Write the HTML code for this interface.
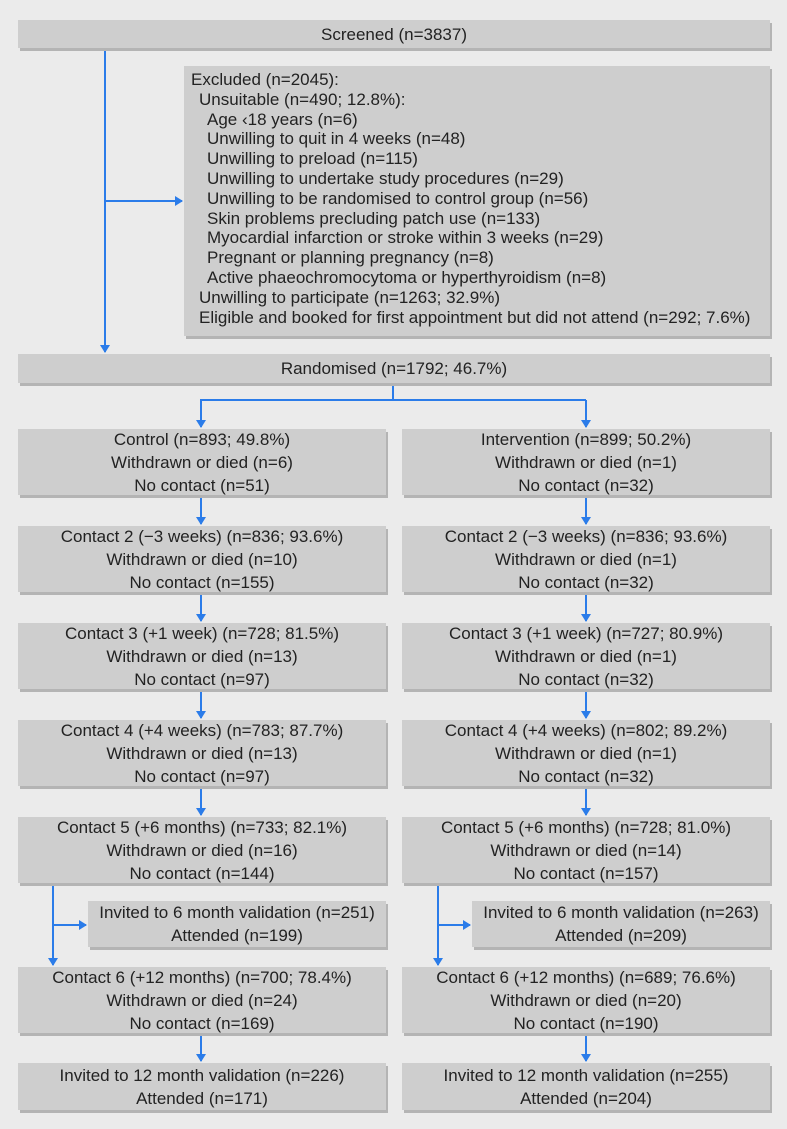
<!DOCTYPE html>
<html><head><meta charset="utf-8"><style>
body{margin:0;background:#ebebeb;}
#c{position:relative;width:787px;height:1129px;background:#ebebeb;font-family:"Liberation Sans",sans-serif;color:#222;font-size:17px;}
.b{position:absolute;background:#cecece;box-shadow:2px 3px 0 #b4b4b4;text-align:center;line-height:23px;box-sizing:border-box;white-space:nowrap;}
.b.c{display:flex;flex-direction:column;justify-content:center;}
.ex{text-align:left;padding:4px 0 0 7px;}
.ex div{height:19.8px;line-height:19.8px;overflow:visible;}
.i1{padding-left:8px}.i2{padding-left:16px}
svg{position:absolute;left:0;top:0;}
</style></head><body><div id="c">
<div class="b c" style="left:18px;top:20px;width:752px;height:28px">Screened (n=3837)</div>
<div class="b ex" style="left:184px;top:66px;width:586px;height:270px">
<div>Excluded (n=2045):</div>
<div class="i1">Unsuitable (n=490; 12.8%):</div>
<div class="i2">Age ‹18 years (n=6)</div>
<div class="i2">Unwilling to quit in 4 weeks (n=48)</div>
<div class="i2">Unwilling to preload (n=115)</div>
<div class="i2">Unwilling to undertake study procedures (n=29)</div>
<div class="i2">Unwilling to be randomised to control group (n=56)</div>
<div class="i2">Skin problems precluding patch use (n=133)</div>
<div class="i2">Myocardial infarction or stroke within 3 weeks (n=29)</div>
<div class="i2">Pregnant or planning pregnancy (n=8)</div>
<div class="i2">Active phaeochromocytoma or hyperthyroidism (n=8)</div>
<div class="i1">Unwilling to participate (n=1263; 32.9%)</div>
<div class="i1">Eligible and booked for first appointment but did not attend (n=292; 7.6%)</div>
</div>
<div class="b c" style="left:18px;top:354px;width:752px;height:29px">Randomised (n=1792; 46.7%)</div>

<div class="b c" style="left:18px;top:429px;width:368px;height:66px">Control (n=893; 49.8%)<br>Withdrawn or died (n=6)<br>No contact (n=51)</div>
<div class="b c" style="left:402px;top:429px;width:368px;height:66px">Intervention (n=899; 50.2%)<br>Withdrawn or died (n=1)<br>No contact (n=32)</div>
<div class="b c" style="left:18px;top:526px;width:368px;height:66px">Contact 2 (−3 weeks) (n=836; 93.6%)<br>Withdrawn or died (n=10)<br>No contact (n=155)</div>
<div class="b c" style="left:402px;top:526px;width:368px;height:66px">Contact 2 (−3 weeks) (n=836; 93.6%)<br>Withdrawn or died (n=1)<br>No contact (n=32)</div>
<div class="b c" style="left:18px;top:623px;width:368px;height:66px">Contact 3 (+1 week) (n=728; 81.5%)<br>Withdrawn or died (n=13)<br>No contact (n=97)</div>
<div class="b c" style="left:402px;top:623px;width:368px;height:66px">Contact 3 (+1 week) (n=727; 80.9%)<br>Withdrawn or died (n=1)<br>No contact (n=32)</div>
<div class="b c" style="left:18px;top:720px;width:368px;height:66px">Contact 4 (+4 weeks) (n=783; 87.7%)<br>Withdrawn or died (n=13)<br>No contact (n=97)</div>
<div class="b c" style="left:402px;top:720px;width:368px;height:66px">Contact 4 (+4 weeks) (n=802; 89.2%)<br>Withdrawn or died (n=1)<br>No contact (n=32)</div>
<div class="b c" style="left:18px;top:817px;width:368px;height:66px">Contact 5 (+6 months) (n=733; 82.1%)<br>Withdrawn or died (n=16)<br>No contact (n=144)</div>
<div class="b c" style="left:402px;top:817px;width:368px;height:66px">Contact 5 (+6 months) (n=728; 81.0%)<br>Withdrawn or died (n=14)<br>No contact (n=157)</div>
<div class="b c" style="left:88px;top:901px;width:298px;height:46px">Invited to 6 month validation (n=251)<br>Attended (n=199)</div>
<div class="b c" style="left:472px;top:901px;width:298px;height:46px">Invited to 6 month validation (n=263)<br>Attended (n=209)</div>
<div class="b c" style="left:18px;top:967px;width:368px;height:66px">Contact 6 (+12 months) (n=700; 78.4%)<br>Withdrawn or died (n=24)<br>No contact (n=169)</div>
<div class="b c" style="left:402px;top:967px;width:368px;height:66px">Contact 6 (+12 months) (n=689; 76.6%)<br>Withdrawn or died (n=20)<br>No contact (n=190)</div>
<div class="b c" style="left:18px;top:1063px;width:368px;height:47px">Invited to 12 month validation (n=226)<br>Attended (n=171)</div>
<div class="b c" style="left:402px;top:1063px;width:368px;height:47px">Invited to 12 month validation (n=255)<br>Attended (n=204)</div>

<svg width="787" height="1129" viewBox="0 0 787 1129">
<defs><marker id="a" markerWidth="8" markerHeight="10" refX="7" refY="5" orient="auto" markerUnits="userSpaceOnUse"><path d="M0,0 L8,5 L0,10 z" fill="#2b7ce9"/></marker></defs>
<g stroke="#2b7ce9" stroke-width="2" fill="none">
<line x1="105" y1="51" x2="105" y2="352" marker-end="url(#a)"/>
<line x1="105" y1="201" x2="182" y2="201" marker-end="url(#a)"/>
<line x1="393" y1="386" x2="393" y2="400"/>
<line x1="200" y1="400" x2="586" y2="400"/>
<line x1="201" y1="400" x2="201" y2="427" marker-end="url(#a)"/>
<line x1="586" y1="400" x2="586" y2="427" marker-end="url(#a)"/>
<line x1="201" y1="498" x2="201" y2="524" marker-end="url(#a)"/>
<line x1="586" y1="498" x2="586" y2="524" marker-end="url(#a)"/>
<line x1="201" y1="595" x2="201" y2="621" marker-end="url(#a)"/>
<line x1="586" y1="595" x2="586" y2="621" marker-end="url(#a)"/>
<line x1="201" y1="692" x2="201" y2="718" marker-end="url(#a)"/>
<line x1="586" y1="692" x2="586" y2="718" marker-end="url(#a)"/>
<line x1="201" y1="789" x2="201" y2="815" marker-end="url(#a)"/>
<line x1="586" y1="789" x2="586" y2="815" marker-end="url(#a)"/>
<line x1="53" y1="886" x2="53" y2="965" marker-end="url(#a)"/>
<line x1="53" y1="925" x2="86" y2="925" marker-end="url(#a)"/>
<line x1="438" y1="886" x2="438" y2="965" marker-end="url(#a)"/>
<line x1="438" y1="925" x2="470" y2="925" marker-end="url(#a)"/>
<line x1="201" y1="1036" x2="201" y2="1061" marker-end="url(#a)"/>
<line x1="586" y1="1036" x2="586" y2="1061" marker-end="url(#a)"/>
</g></svg>
</div></body></html>
